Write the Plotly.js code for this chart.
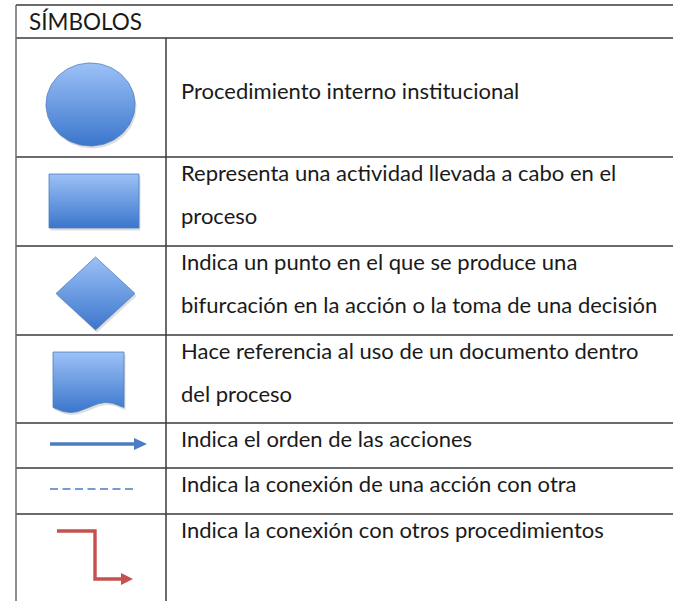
<!DOCTYPE html>
<html>
<head>
<meta charset="utf-8">
<script src="https://cdn.plot.ly/plotly-3.0.1.min.js"></script>
<style>html,body{margin:0;padding:0;background:#fff;}#chart{width:673px;height:601px;}</style>
</head>
<body>
<div id="chart"></div>
<script>
// ---- data (table content) ----
const headerLabel = "SÍMBOLOS";
const symbolKinds = ["circle", "rectangle", "diamond", "document", "arrow", "dashed", "connector"];
const descriptions = [
  ["Procedimiento interno institucional"],
  ["Representa una actividad llevada a cabo en el", "proceso"],
  ["Indica un punto en el que se produce una", "bifurcación en la acción o la toma de una decisión"],
  ["Hace referencia al uso de un documento dentro", "del proceso"],
  ["Indica el orden de las acciones"],
  ["Indica la conexión de una acción con otra"],
  ["Indica la conexión con otros procedimientos"]
];

// ---- layout geometry (pixel space) ----
const W = 673, H = 601;
const leftX = 16, divX = 166, rightX = 673, topY = 5, headBottom = 38;
const rowBounds = [38, 157, 246, 335, 423, 468, 514, 601];
const lineGap = 43;

const blueLight = "#9cc1f6", blueDark = "#3b76cc", blueEdge = "#4f7fc0";
const grad = (y0, y1) => ({type: "vertical", start: y0, stop: y1, colorscale: [[0, blueLight], [1, blueDark]]});

const traces = [];
function addShape(xs, ys) {
  const y0 = Math.min(...ys), y1 = Math.max(...ys);
  traces.push({x: xs.map(v => v + 1.5), y: ys.map(v => v + 2.5), mode: "lines", fill: "toself",
    fillcolor: "rgba(0,0,0,0.13)", line: {width: 0, color: "rgba(0,0,0,0)"}, hoverinfo: "skip", showlegend: false});
  traces.push({x: xs, y: ys, mode: "lines", fill: "toself", fillgradient: grad(y0, y1),
    line: {width: 0.8, color: blueEdge}, hoverinfo: "skip", showlegend: false});
}

// circle
(function(){ const xs=[], ys=[]; const cx=90.5, cy=104.5, rx=44.5, ry=41.5;
  for (let i=0;i<=120;i++){ const a=2*Math.PI*i/120; xs.push(cx+rx*Math.cos(a)); ys.push(cy+ry*Math.sin(a)); }
  addShape(xs, ys); })();
// rectangle
addShape([49,139,139,49,49],[174,174,228,228,174]);
// diamond
addShape([56,95.5,135,95.5,56],[293.5,257,293.5,330,293.5]);
// document
(function(){ const xs=[53,124], ys=[352,352];
  for (let i=0;i<=60;i++){ const x=124-71*i/60; xs.push(x); ys.push(407.5+5*Math.sin(2*Math.PI*(x-53)/71)); }
  xs.push(53); ys.push(352); addShape(xs, ys); })();

const shapes = [];
const ln = (x0,y0,x1,y1,color,width,dash) => shapes.push({type:"line",xref:"x",yref:"y",x0,y0,x1,y1,
  line:{color:color||"#3a3a3a",width:width||1.5,dash:dash||"solid"}});
// table lines
ln(leftX, topY, rightX, topY);
ln(leftX, headBottom, rightX, headBottom);
for (let i=1;i<rowBounds.length-1;i++) ln(leftX, rowBounds[i], rightX, rowBounds[i]);
ln(leftX, topY, leftX, H, "#6a6a6a", 1.5);
ln(divX, headBottom, divX, H, "#3a3a3a", 1.5);

// arrow (row 5)
ln(50, 444, 137, 444, "#4a7dc4", 3.4);
shapes.push({type:"path", path:"M 134 438 L 147 444 L 134 450 Z", fillcolor:"#4a7dc4", line:{width:0}});
// dashed (row 6)
ln(50, 489, 135, 489, "#4a7dc4", 1.3, "8px,4.5px");
// connector (row 7)
shapes.push({type:"path", path:"M 57 531 L 95 531 L 95 579 L 124 579", line:{color:"#c5504d", width:3.4}});
shapes.push({type:"path", path:"M 121 573 L 133 579 L 121 585 Z", fillcolor:"#c5504d", line:{width:0}});

// annotations
const font = {family: "Lato, 'Open Sans', sans-serif", size: 22, color: "#1a1a1a"};
const annotations = [{x: 27, y: 21.5, xref:"x", yref:"y", text: headerLabel, showarrow:false,
  xanchor:"left", yanchor:"middle", font:{family: font.family, size: 22.5, color: "#1a1a1a"}}];
descriptions.forEach((lines, r) => {
  const top = rowBounds[r];
  lines.forEach((t, i) => {
    const y = (r === 0) ? 90.5 : top + 15.5 + i * lineGap;
    annotations.push({x: 179, y: y, xref:"x", yref:"y", text: t, showarrow:false, xanchor:"left", yanchor:"middle", font: font});
  });
});

const layout = {
  width: W, height: H, margin: {l:0, r:0, t:0, b:0}, paper_bgcolor: "#fff", plot_bgcolor: "#fff",
  xaxis: {range: [0, W], visible: false, fixedrange: true},
  yaxis: {range: [H, 0], visible: false, fixedrange: true},
  shapes: shapes, annotations: annotations, showlegend: false
};
Plotly.newPlot("chart", traces, layout, {staticPlot: true, displayModeBar: false});
</script>
</body>
</html>
